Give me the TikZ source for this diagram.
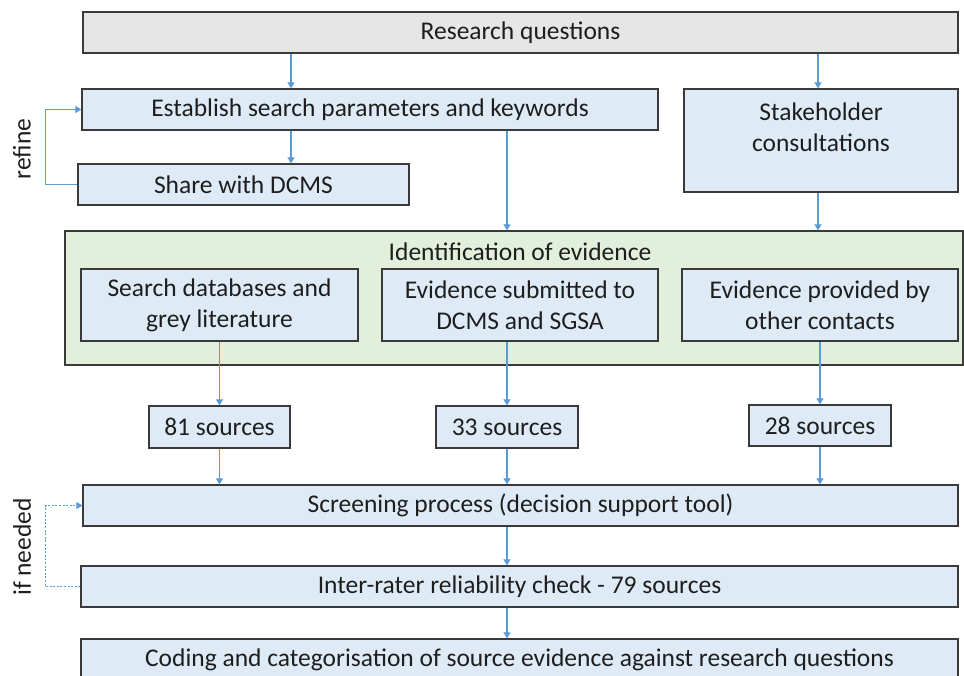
\documentclass[tikz,border=0pt]{standalone}
\usepackage{fontspec}
\setmainfont{Carlito}
\usetikzlibrary{arrows.meta}
\definecolor{boxblue}{HTML}{DEEBF7}
\definecolor{boxgrey}{HTML}{E7E6E6}
\definecolor{boxgreen}{HTML}{E2EFDA}
\definecolor{edge}{HTML}{3A3A3A}
\definecolor{arr}{HTML}{5B9BD5}
\definecolor{txt}{HTML}{1E1E1E}
\tikzset{
  box/.style={draw=edge, line width=1.3pt, fill=boxblue, align=center, inner sep=0pt, text=txt},
  flow/.style={draw=arr, line width=1.1pt, -{Triangle[width=7pt,length=6pt]}},
  loopdot/.style={flow, dash pattern=on 2pt off 1.6pt, line width=1pt},
  lbl/.style={text=txt, rotate=90, inner sep=0pt}
}
\begin{document}
\begin{tikzpicture}[x=1pt,y=-1pt, font=\fontsize{25.5}{31}\selectfont]
\useasboundingbox (0,0) rectangle (964,675);
\clip (0,0) rectangle (964,675);
% columns
\coordinate (xa) at (291,0);
\coordinate (xb) at (507,0);
\coordinate (xc) at (818,0);
\coordinate (xd) at (219.5,0);
\coordinate (xe) at (820,0);
% nodes
\node[box, fill=boxgrey, minimum width=875, minimum height=41] (rq) at (520.5,32.5) {Research questions};
\node[box, minimum width=576, minimum height=41] (est) at (370,109.5) {Establish search parameters and keywords};
\node[box, minimum width=274, minimum height=103] (stake) at (821,140.5) {};
\node[align=center, text=txt, inner sep=0pt] (staket) at (821,127) {Stakeholder\\consultations};
\node[box, minimum width=331, minimum height=41] (share) at (243.5,184.5) {Share with DCMS};
\node[box, fill=boxgreen, minimum width=898, minimum height=134] (green) at (514,298) {};
\node[text=txt, inner sep=0pt] (greent) at (520,252) {Identification of evidence};
\node[box, minimum width=277, minimum height=72] (search) at (219.5,305) {Search databases and\\grey literature};
\node[box, minimum width=276, minimum height=72] (subm) at (520,305) {Evidence submitted to\\DCMS and SGSA};
\node[box, minimum width=276, minimum height=72] (prov) at (820,305) {Evidence provided by\\other contacts};
\node[box, minimum width=141, minimum height=42] (s81) at (219.5,427) {81 sources};
\node[box, minimum width=142, minimum height=42] (s33) at (507,427) {33 sources};
\node[box, minimum width=142, minimum height=41] (s28) at (820,425.5) {28 sources};
\node[box, minimum width=875, minimum height=41] (scr) at (520.5,505.5) {Screening process (decision support tool)};
\node[box, minimum width=877, minimum height=41] (irr) at (519.5,586.5) {Inter-rater reliability check - 79 sources};
\node[box, minimum width=877, minimum height=42] (cod) at (519.5,660) {Coding and categorisation of source evidence against research questions};
\node[lbl] (refine) at (22,149) {refine};
\node[lbl] (ifneeded) at (22,547) {if needed};
% connectors
\draw[flow] (rq.south -| xa) -- (est.north -| xa);
\draw[flow] (rq.south -| xc) -- (stake.north -| xc);
\draw[flow] (est.south -| xa) -- (share.north -| xa);
\draw[flow] (est.south -| xb) -- (green.north -| xb);
\draw[flow] (stake.south -| xc) -- (green.north -| xc);
\draw[flow] (search.south -| xd) -- (s81.north -| xd);
\draw[flow] (subm.south -| xb) -- (s33.north -| xb);
\draw[flow] (prov.south -| xe) -- (s28.north -| xe);
\draw[flow] (s81.south -| xd) -- (scr.north -| xd);
\draw[flow] (s33.south -| xb) -- (scr.north -| xb);
\draw[flow] (s28.south -| xe) -- (scr.north -| xe);
\draw[flow] (scr.south -| xb) -- (irr.north -| xb);
\draw[flow] (irr.south -| xb) -- (cod.north -| xb);
\draw[flow] (share.west) -- ++(-32,0) |- (est.west);
\draw[loopdot] (irr.west) -- ++(-35,0) |- (scr.west);
\end{tikzpicture}
\end{document}
